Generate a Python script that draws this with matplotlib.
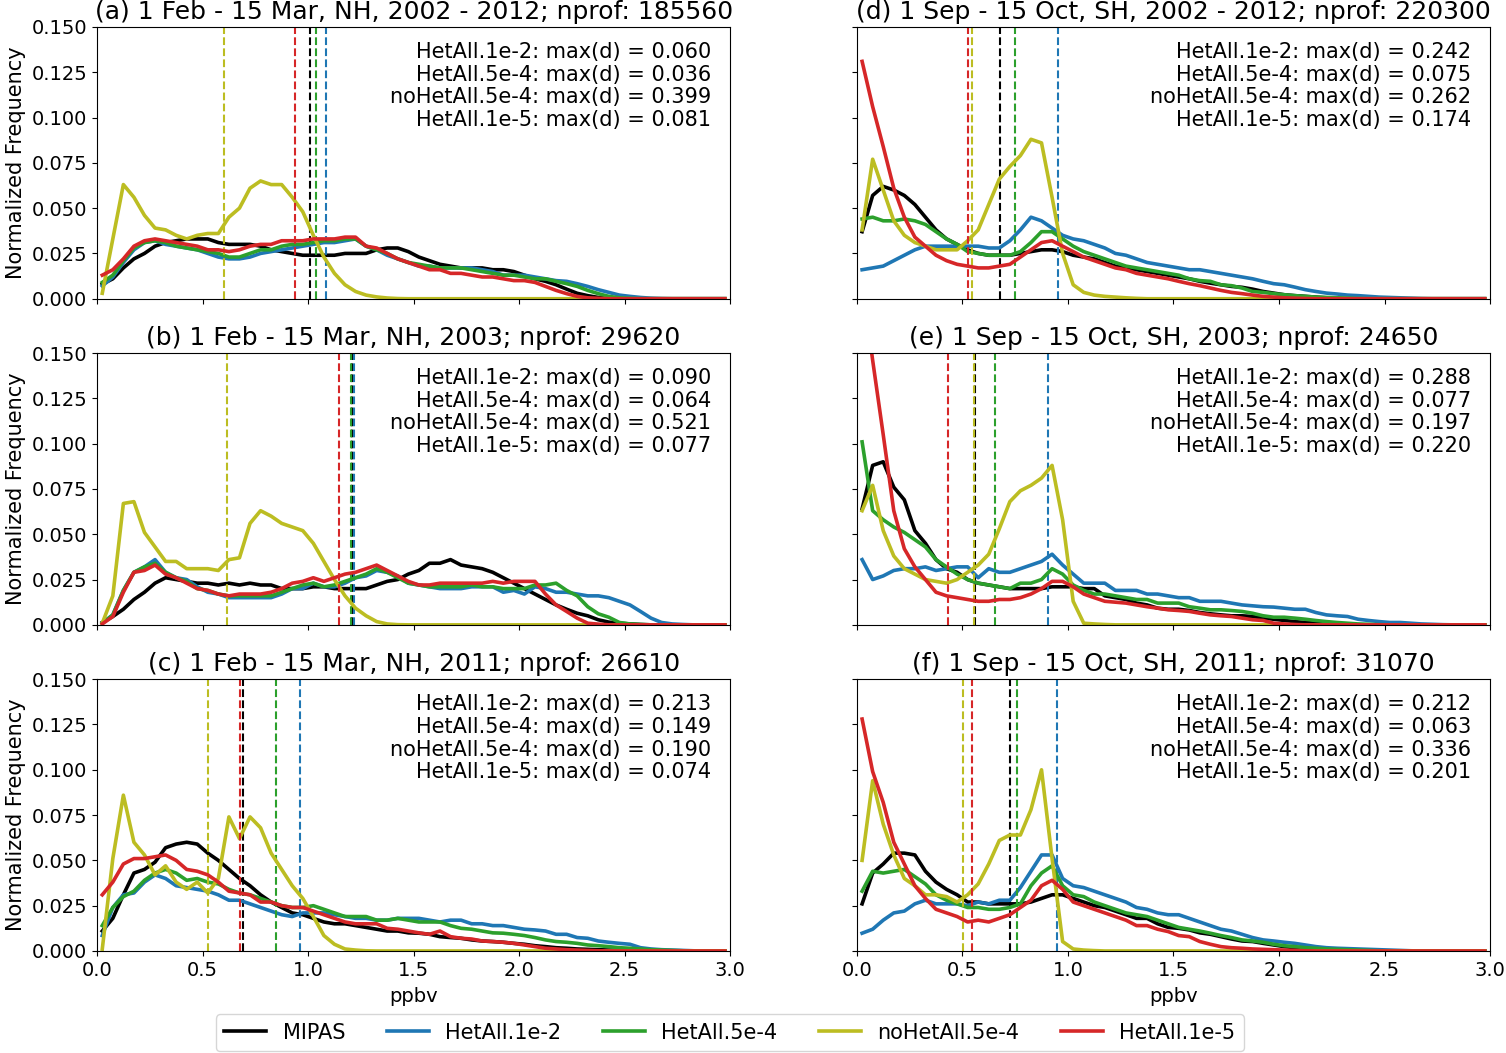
import numpy as np
import matplotlib
matplotlib.use("Agg")
import matplotlib.pyplot as plt
from matplotlib.ticker import FormatStrFormatter

# bin centres of the 0.05 ppbv histogram bins
bin_edges = np.arange(0.0, 3.0001, 0.05)
x = 0.5 * (bin_edges[:-1] + bin_edges[1:])

runs = ["MIPAS", "HetAll.1e-2", "HetAll.5e-4", "noHetAll.5e-4", "HetAll.1e-5"]
colors = ["black", "tab:blue", "tab:green", "tab:olive", "tab:red"]

titles = [
    "(a) 1 Feb - 15 Mar, NH, 2002 - 2012; nprof: 185560",
    "(b) 1 Feb - 15 Mar, NH, 2003; nprof: 29620",
    "(c) 1 Feb - 15 Mar, NH, 2011; nprof: 26610",
    "(d) 1 Sep - 15 Oct, SH, 2002 - 2012; nprof: 220300",
    "(e) 1 Sep - 15 Oct, SH, 2003; nprof: 24650",
    "(f) 1 Sep - 15 Oct, SH, 2011; nprof: 31070",
]

# ---- panel (a) ----
mipas_a = [0.008, 0.011, 0.017, 0.022, 0.025, 0.029, 0.031, 0.032, 0.033, 0.033,
           0.033, 0.031, 0.030, 0.030, 0.030, 0.029, 0.027, 0.026, 0.025, 0.024,
           0.024, 0.024, 0.024, 0.025, 0.025, 0.025, 0.027, 0.028, 0.028, 0.026,
           0.023, 0.021, 0.019, 0.018, 0.017, 0.017, 0.017, 0.016, 0.016, 0.015,
           0.013, 0.011, 0.0096, 0.0077, 0.0053, 0.003, 0.0017, 0.0007, 0.0003, 0.0001,
           0, 0, 0, 0, 0, 0, 0, 0, 0, 0]
het1e2_a = [0.007, 0.012, 0.020, 0.027, 0.031, 0.032, 0.030, 0.029, 0.028, 0.027,
            0.025, 0.023, 0.022, 0.022, 0.023, 0.025, 0.026, 0.027, 0.028, 0.029,
            0.030, 0.031, 0.031, 0.032, 0.033, 0.029, 0.027, 0.024, 0.022, 0.020,
            0.018, 0.018, 0.017, 0.017, 0.017, 0.017, 0.016, 0.015, 0.013, 0.013,
            0.013, 0.012, 0.011, 0.010, 0.0096, 0.0083, 0.0068, 0.005, 0.0035, 0.002,
            0.0013, 0.0007, 0.0003, 0.0001, 0, 0, 0, 0, 0, 0]
het5e4_a = [0.009, 0.013, 0.021, 0.028, 0.031, 0.032, 0.031, 0.029, 0.028, 0.027,
            0.026, 0.025, 0.023, 0.023, 0.025, 0.027, 0.027, 0.029, 0.030, 0.030,
            0.031, 0.032, 0.032, 0.033, 0.033, 0.029, 0.027, 0.025, 0.022, 0.020,
            0.019, 0.018, 0.017, 0.017, 0.017, 0.016, 0.015, 0.014, 0.013, 0.013,
            0.012, 0.011, 0.011, 0.0096, 0.0083, 0.0068, 0.0046, 0.0028, 0.0013, 0.0005,
            0.0002, 0, 0, 0, 0, 0, 0, 0, 0, 0]
nohet_a = [0.003, 0.033, 0.063, 0.056, 0.046, 0.039, 0.038, 0.035, 0.033, 0.035,
           0.036, 0.036, 0.045, 0.050, 0.061, 0.065, 0.063, 0.063, 0.056, 0.048,
           0.035, 0.023, 0.014, 0.0077, 0.004, 0.002, 0.001, 0.0004, 0.0001, 0,
           0, 0, 0, 0, 0, 0, 0, 0, 0, 0,
           0, 0, 0, 0, 0, 0, 0, 0, 0, 0,
           0, 0, 0, 0, 0, 0, 0, 0, 0, 0]
het1e5_a = [0.013, 0.016, 0.022, 0.029, 0.032, 0.033, 0.032, 0.031, 0.030, 0.029,
            0.027, 0.027, 0.026, 0.027, 0.029, 0.030, 0.030, 0.032, 0.032, 0.032,
            0.033, 0.033, 0.033, 0.034, 0.034, 0.029, 0.028, 0.025, 0.022, 0.020,
            0.018, 0.016, 0.016, 0.014, 0.014, 0.013, 0.012, 0.012, 0.011, 0.010,
            0.010, 0.009, 0.0068, 0.0046, 0.0028, 0.0013, 0.0005, 0.0002, 0, 0,
            0, 0, 0, 0, 0, 0, 0, 0, 0, 0]

# ---- panel (b) ----
mipas_b = [0.0013, 0.0046, 0.0086, 0.014, 0.018, 0.023, 0.026, 0.025, 0.024, 0.023,
           0.023, 0.022, 0.023, 0.022, 0.023, 0.022, 0.022, 0.020, 0.020, 0.020,
           0.021, 0.021, 0.020, 0.020, 0.020, 0.020, 0.022, 0.024, 0.025, 0.028,
           0.030, 0.034, 0.034, 0.036, 0.033, 0.032, 0.031, 0.029, 0.026, 0.023,
           0.020, 0.017, 0.014, 0.011, 0.0086, 0.0064, 0.005, 0.0028, 0.0015, 0.0009,
           0.0005, 0.0002, 0, 0, 0, 0, 0, 0, 0, 0]
het1e2_b = [0.0009, 0.0055, 0.019, 0.029, 0.032, 0.036, 0.029, 0.026, 0.025, 0.021,
            0.018, 0.017, 0.015, 0.015, 0.015, 0.015, 0.015, 0.017, 0.020, 0.020,
            0.023, 0.021, 0.021, 0.023, 0.026, 0.027, 0.030, 0.029, 0.027, 0.023,
            0.022, 0.021, 0.020, 0.020, 0.020, 0.021, 0.021, 0.021, 0.018, 0.019,
            0.017, 0.021, 0.020, 0.018, 0.018, 0.017, 0.016, 0.016, 0.015, 0.013,
            0.011, 0.0074, 0.0037, 0.0013, 0.0005, 0.0002, 0, 0, 0, 0]
het5e4_b = [0.0009, 0.0055, 0.019, 0.029, 0.032, 0.034, 0.029, 0.026, 0.024, 0.020,
            0.019, 0.017, 0.016, 0.016, 0.016, 0.016, 0.016, 0.018, 0.020, 0.022,
            0.023, 0.021, 0.022, 0.024, 0.026, 0.028, 0.031, 0.029, 0.026, 0.023,
            0.022, 0.021, 0.021, 0.021, 0.021, 0.022, 0.021, 0.021, 0.020, 0.020,
            0.020, 0.022, 0.022, 0.023, 0.019, 0.016, 0.010, 0.0061, 0.0042, 0.0013,
            0.0005, 0.0002, 0, 0, 0, 0, 0, 0, 0, 0]
nohet_b = [0.0009, 0.016, 0.067, 0.068, 0.051, 0.043, 0.035, 0.035, 0.031, 0.031,
           0.031, 0.030, 0.036, 0.037, 0.056, 0.063, 0.060, 0.056, 0.054, 0.052,
           0.045, 0.035, 0.025, 0.016, 0.0092, 0.005, 0.0018, 0.0005, 0.0001, 0,
           0, 0, 0, 0, 0, 0, 0, 0, 0, 0,
           0, 0, 0, 0, 0, 0, 0, 0, 0, 0,
           0, 0, 0, 0, 0, 0, 0, 0, 0, 0]
het1e5_b = [0.0005, 0.0046, 0.018, 0.029, 0.030, 0.033, 0.028, 0.026, 0.023, 0.020,
            0.019, 0.017, 0.016, 0.017, 0.017, 0.017, 0.018, 0.020, 0.023, 0.024,
            0.026, 0.024, 0.026, 0.028, 0.029, 0.031, 0.033, 0.030, 0.027, 0.024,
            0.022, 0.022, 0.023, 0.023, 0.023, 0.023, 0.023, 0.024, 0.023, 0.024,
            0.024, 0.024, 0.017, 0.011, 0.0074, 0.0037, 0.0009, 0.0004, 0, 0,
            0, 0, 0, 0, 0, 0, 0, 0, 0, 0]

# ---- panel (c) ----
mipas_c = [0.011, 0.018, 0.031, 0.043, 0.045, 0.049, 0.057, 0.059, 0.060, 0.059,
           0.054, 0.050, 0.045, 0.040, 0.036, 0.031, 0.027, 0.024, 0.021, 0.020,
           0.018, 0.016, 0.015, 0.015, 0.014, 0.013, 0.012, 0.011, 0.011, 0.010,
           0.0098, 0.0092, 0.0079, 0.0074, 0.007, 0.0061, 0.0055, 0.0052, 0.0048, 0.0042,
           0.0037, 0.0029, 0.0024, 0.0018, 0.0015, 0.0011, 0.0009, 0.0007, 0.0005, 0.0003,
           0.0001, 0, 0, 0, 0, 0, 0, 0, 0, 0]
het1e2_c = [0.0085, 0.024, 0.031, 0.032, 0.038, 0.042, 0.040, 0.036, 0.035, 0.034,
            0.033, 0.031, 0.028, 0.028, 0.026, 0.024, 0.022, 0.020, 0.019, 0.021,
            0.021, 0.021, 0.020, 0.019, 0.018, 0.018, 0.017, 0.017, 0.018, 0.018,
            0.018, 0.017, 0.016, 0.017, 0.017, 0.015, 0.015, 0.014, 0.014, 0.013,
            0.012, 0.0116, 0.011, 0.0092, 0.0092, 0.0074, 0.007, 0.0055, 0.0048, 0.0042,
            0.0037, 0.0018, 0.0011, 0.0007, 0.0005, 0.0003, 0.0001, 0, 0, 0]
het5e4_c = [0.014, 0.024, 0.030, 0.033, 0.039, 0.043, 0.045, 0.043, 0.039, 0.040,
            0.038, 0.037, 0.034, 0.032, 0.031, 0.029, 0.027, 0.025, 0.024, 0.024,
            0.025, 0.023, 0.021, 0.019, 0.019, 0.019, 0.017, 0.017, 0.018, 0.017,
            0.016, 0.016, 0.016, 0.014, 0.0125, 0.012, 0.011, 0.010, 0.0098, 0.0092,
            0.0085, 0.0074, 0.0061, 0.0052, 0.0048, 0.0042, 0.0033, 0.0029, 0.0024, 0.0018,
            0.0015, 0.0011, 0.0007, 0.0005, 0.0003, 0.0001, 0, 0, 0, 0]
nohet_c = [0.001, 0.051, 0.086, 0.060, 0.053, 0.042, 0.047, 0.038, 0.034, 0.038,
           0.032, 0.040, 0.074, 0.062, 0.074, 0.068, 0.054, 0.045, 0.036, 0.029,
           0.019, 0.0085, 0.0037, 0.0011, 0.0005, 0.0001, 0, 0, 0, 0,
           0, 0, 0, 0, 0, 0, 0, 0, 0, 0,
           0, 0, 0, 0, 0, 0, 0, 0, 0, 0,
           0, 0, 0, 0, 0, 0, 0, 0, 0, 0]
het1e5_c = [0.031, 0.038, 0.048, 0.051, 0.051, 0.052, 0.053, 0.050, 0.045, 0.044,
            0.042, 0.038, 0.033, 0.032, 0.031, 0.027, 0.027, 0.025, 0.024, 0.024,
            0.022, 0.020, 0.018, 0.016, 0.015, 0.015, 0.015, 0.0125, 0.012, 0.011,
            0.010, 0.0092, 0.011, 0.0079, 0.007, 0.0066, 0.0055, 0.0052, 0.0048, 0.0042,
            0.0033, 0.0024, 0.0015, 0.0011, 0.0007, 0.0005, 0.0003, 0.0001, 0, 0,
            0, 0, 0, 0, 0, 0, 0, 0, 0, 0]

# ---- panel (d) ----
mipas_d = [0.037, 0.057, 0.062, 0.060, 0.057, 0.052, 0.045, 0.038, 0.033, 0.030,
           0.027, 0.025, 0.024, 0.024, 0.024, 0.025, 0.026, 0.027, 0.027, 0.026,
           0.024, 0.023, 0.022, 0.020, 0.018, 0.017, 0.016, 0.015, 0.014, 0.013,
           0.012, 0.011, 0.0096, 0.0086, 0.0077, 0.0068, 0.0063, 0.0053, 0.004, 0.0031,
           0.0022, 0.0017, 0.0013, 0.0009, 0.0005, 0.0003, 0.0001, 0, 0, 0,
           0, 0, 0, 0, 0, 0, 0, 0, 0, 0]
het1e2_d = [0.016, 0.017, 0.018, 0.021, 0.024, 0.027, 0.029, 0.029, 0.029, 0.029,
            0.029, 0.029, 0.028, 0.028, 0.032, 0.038, 0.045, 0.043, 0.039, 0.035,
            0.033, 0.032, 0.030, 0.028, 0.025, 0.024, 0.022, 0.020, 0.019, 0.018,
            0.017, 0.016, 0.016, 0.015, 0.014, 0.013, 0.012, 0.011, 0.0096, 0.0083,
            0.0077, 0.0064, 0.005, 0.004, 0.0031, 0.0026, 0.002, 0.0017, 0.0013, 0.0009,
            0.0007, 0.0005, 0.0003, 0.0001, 0, 0, 0, 0, 0, 0]
het5e4_d = [0.044, 0.045, 0.043, 0.043, 0.044, 0.043, 0.041, 0.037, 0.033, 0.030,
            0.026, 0.025, 0.024, 0.024, 0.024, 0.026, 0.031, 0.037, 0.037, 0.033,
            0.029, 0.026, 0.024, 0.022, 0.020, 0.018, 0.017, 0.016, 0.015, 0.014,
            0.013, 0.011, 0.010, 0.0096, 0.0077, 0.0072, 0.0059, 0.004, 0.0035, 0.0028,
            0.0022, 0.0017, 0.0013, 0.0009, 0.0007, 0.0005, 0.0003, 0.0001, 0, 0,
            0, 0, 0, 0, 0, 0, 0, 0, 0, 0]
nohet_d = [0.038, 0.077, 0.060, 0.043, 0.035, 0.031, 0.029, 0.027, 0.027, 0.027,
           0.032, 0.038, 0.052, 0.066, 0.073, 0.079, 0.088, 0.086, 0.056, 0.025,
           0.0077, 0.0035, 0.002, 0.0013, 0.0009, 0.0005, 0.0002, 0, 0, 0,
           0, 0, 0, 0, 0, 0, 0, 0, 0, 0,
           0, 0, 0, 0, 0, 0, 0, 0, 0, 0,
           0, 0, 0, 0, 0, 0, 0, 0, 0, 0]
het1e5_d = [0.131, 0.106, 0.084, 0.061, 0.045, 0.034, 0.029, 0.024, 0.021, 0.019,
            0.018, 0.017, 0.017, 0.018, 0.019, 0.023, 0.027, 0.031, 0.032, 0.029,
            0.026, 0.023, 0.021, 0.019, 0.017, 0.016, 0.014, 0.013, 0.012, 0.011,
            0.0096, 0.0083, 0.0072, 0.0059, 0.0046, 0.0035, 0.0028, 0.002, 0.0013, 0.0009,
            0.0005, 0.0003, 0.0001, 0, 0, 0, 0, 0, 0, 0,
            0, 0, 0, 0, 0, 0, 0, 0, 0, 0]

# ---- panel (e) ----
mipas_e = [0.064, 0.088, 0.090, 0.076, 0.069, 0.052, 0.045, 0.036, 0.031, 0.029,
           0.025, 0.023, 0.022, 0.021, 0.020, 0.020, 0.020, 0.020, 0.021, 0.021,
           0.021, 0.020, 0.020, 0.016, 0.015, 0.014, 0.012, 0.011, 0.0092, 0.0086,
           0.0086, 0.0079, 0.0068, 0.0061, 0.0055, 0.005, 0.005, 0.0046, 0.0037, 0.0031,
           0.0024, 0.0018, 0.0013, 0.0009, 0.0005, 0.0003, 0.0001, 0, 0, 0,
           0, 0, 0, 0, 0, 0, 0, 0, 0, 0]
het1e2_e = [0.036, 0.025, 0.027, 0.030, 0.031, 0.031, 0.032, 0.030, 0.031, 0.032,
            0.032, 0.026, 0.031, 0.029, 0.029, 0.031, 0.033, 0.035, 0.039, 0.033,
            0.028, 0.023, 0.023, 0.023, 0.019, 0.019, 0.019, 0.017, 0.017, 0.016,
            0.015, 0.015, 0.013, 0.013, 0.013, 0.012, 0.011, 0.0105, 0.010, 0.0098,
            0.0092, 0.0086, 0.0086, 0.0068, 0.0055, 0.005, 0.0046, 0.0031, 0.0024, 0.0018,
            0.0013, 0.0013, 0.0009, 0.0005, 0.0003, 0.0001, 0, 0, 0, 0]
het5e4_e = [0.101, 0.063, 0.058, 0.054, 0.051, 0.047, 0.043, 0.036, 0.032, 0.028,
            0.025, 0.023, 0.022, 0.021, 0.020, 0.023, 0.023, 0.025, 0.031, 0.028,
            0.022, 0.019, 0.017, 0.017, 0.016, 0.015, 0.014, 0.014, 0.012, 0.012,
            0.012, 0.010, 0.0092, 0.0083, 0.0083, 0.0079, 0.0074, 0.0064, 0.005, 0.0042,
            0.0042, 0.0037, 0.0031, 0.0024, 0.0018, 0.0013, 0.0009, 0.0005, 0.0003, 0.0001,
            0, 0, 0, 0, 0, 0, 0, 0, 0, 0]
nohet_e = [0.063, 0.077, 0.052, 0.038, 0.031, 0.028, 0.025, 0.024, 0.023, 0.025,
           0.029, 0.033, 0.039, 0.053, 0.068, 0.074, 0.077, 0.081, 0.088, 0.058,
           0.013, 0.0009, 0.0005, 0.0002, 0, 0, 0, 0, 0, 0,
           0, 0, 0, 0, 0, 0, 0, 0, 0, 0,
           0, 0, 0, 0, 0, 0, 0, 0, 0, 0,
           0, 0, 0, 0, 0, 0, 0, 0, 0, 0]
het1e5_e = [0.190, 0.146, 0.105, 0.063, 0.042, 0.032, 0.025, 0.018, 0.016, 0.015,
            0.014, 0.013, 0.013, 0.014, 0.014, 0.015, 0.017, 0.020, 0.024, 0.024,
            0.021, 0.017, 0.015, 0.013, 0.0125, 0.012, 0.011, 0.010, 0.0092, 0.0083,
            0.0079, 0.0074, 0.0064, 0.0055, 0.005, 0.0046, 0.0037, 0.0028, 0.0024, 0.0009,
            0.0005, 0.0002, 0, 0, 0, 0, 0, 0, 0, 0,
            0, 0, 0, 0, 0, 0, 0, 0, 0, 0]

# ---- panel (f) ----
mipas_f = [0.026, 0.043, 0.048, 0.054, 0.054, 0.053, 0.044, 0.038, 0.034, 0.031,
           0.027, 0.027, 0.026, 0.026, 0.026, 0.026, 0.027, 0.029, 0.031, 0.031,
           0.029, 0.027, 0.025, 0.024, 0.022, 0.020, 0.018, 0.018, 0.015, 0.013,
           0.0125, 0.0116, 0.010, 0.0092, 0.0079, 0.0066, 0.0055, 0.0052, 0.0042, 0.0033,
           0.0024, 0.0018, 0.0015, 0.0011, 0.0009, 0.0007, 0.0005, 0.0003, 0.0001, 0,
           0, 0, 0, 0, 0, 0, 0, 0, 0, 0]
het1e2_f = [0.0098, 0.012, 0.017, 0.021, 0.022, 0.026, 0.028, 0.026, 0.026, 0.026,
            0.025, 0.027, 0.026, 0.028, 0.028, 0.035, 0.044, 0.053, 0.053, 0.040,
            0.036, 0.035, 0.033, 0.031, 0.029, 0.027, 0.024, 0.023, 0.021, 0.020,
            0.020, 0.018, 0.016, 0.014, 0.012, 0.011, 0.0092, 0.0074, 0.0061, 0.0055,
            0.0048, 0.0042, 0.0033, 0.0024, 0.0018, 0.0015, 0.0013, 0.0011, 0.0009, 0.0007,
            0.0005, 0.0003, 0.0001, 0, 0, 0, 0, 0, 0, 0]
het5e4_f = [0.033, 0.044, 0.043, 0.044, 0.045, 0.041, 0.037, 0.031, 0.028, 0.026,
            0.024, 0.024, 0.023, 0.023, 0.024, 0.026, 0.036, 0.043, 0.047, 0.036,
            0.031, 0.030, 0.027, 0.025, 0.023, 0.021, 0.020, 0.019, 0.017, 0.015,
            0.013, 0.012, 0.011, 0.0098, 0.0085, 0.0074, 0.0061, 0.0055, 0.0048, 0.0037,
            0.0029, 0.0024, 0.0018, 0.0015, 0.0011, 0.0009, 0.0007, 0.0005, 0.0003, 0.0001,
            0, 0, 0, 0, 0, 0, 0, 0, 0, 0]
nohet_f = [0.050, 0.094, 0.070, 0.053, 0.040, 0.036, 0.031, 0.031, 0.030, 0.027,
           0.031, 0.037, 0.048, 0.061, 0.064, 0.064, 0.078, 0.100, 0.051, 0.0052,
           0.0011, 0.0005, 0.0002, 0, 0, 0, 0, 0, 0, 0,
           0, 0, 0, 0, 0, 0, 0, 0, 0, 0,
           0, 0, 0, 0, 0, 0, 0, 0, 0, 0,
           0, 0, 0, 0, 0, 0, 0, 0, 0, 0]
het1e5_f = [0.128, 0.099, 0.082, 0.060, 0.048, 0.036, 0.029, 0.023, 0.021, 0.019,
            0.016, 0.017, 0.016, 0.018, 0.020, 0.024, 0.028, 0.036, 0.039, 0.034,
            0.027, 0.025, 0.023, 0.021, 0.019, 0.017, 0.014, 0.014, 0.012, 0.0107,
            0.0085, 0.0079, 0.0052, 0.0037, 0.0024, 0.0018, 0.0015, 0.0011, 0.0009, 0.0007,
            0.0005, 0.0003, 0.0001, 0, 0, 0, 0, 0, 0, 0,
            0, 0, 0, 0, 0, 0, 0, 0, 0, 0]

# mean values (dashed lines), order as in runs
means_a = [1.010, 1.086, 1.039, 0.604, 0.939]
means_b = [1.208, 1.220, 1.202, 0.614, 1.147]
means_c = [0.690, 0.961, 0.849, 0.525, 0.676]
means_d = [0.680, 0.955, 0.750, 0.548, 0.528]
means_e = [0.560, 0.908, 0.656, 0.554, 0.432]
means_f = [0.727, 0.947, 0.760, 0.505, 0.548]

# KS statistic max(d) per model run (HetAll.1e-2, HetAll.5e-4, noHetAll.5e-4, HetAll.1e-5)
maxd_a = [0.060, 0.036, 0.399, 0.081]
maxd_b = [0.090, 0.064, 0.521, 0.077]
maxd_c = [0.213, 0.149, 0.190, 0.074]
maxd_d = [0.242, 0.075, 0.262, 0.174]
maxd_e = [0.288, 0.077, 0.197, 0.220]
maxd_f = [0.212, 0.063, 0.336, 0.201]

panels = [
    ([mipas_a, het1e2_a, het5e4_a, nohet_a, het1e5_a], means_a, maxd_a),
    ([mipas_b, het1e2_b, het5e4_b, nohet_b, het1e5_b], means_b, maxd_b),
    ([mipas_c, het1e2_c, het5e4_c, nohet_c, het1e5_c], means_c, maxd_c),
    ([mipas_d, het1e2_d, het5e4_d, nohet_d, het1e5_d], means_d, maxd_d),
    ([mipas_e, het1e2_e, het5e4_e, nohet_e, het1e5_e], means_e, maxd_e),
    ([mipas_f, het1e2_f, het5e4_f, nohet_f, het1e5_f], means_f, maxd_f),
]

plt.rcParams["font.size"] = 14

fig, axes = plt.subplots(3, 2, figsize=(15.06, 10.53), dpi=100, sharex=True, sharey=True)
fig.subplots_adjust(left=0.0644, right=0.9894, top=0.9744, bottom=0.0969,
                    wspace=0.2, hspace=0.2)

# column-major: a, b, c left; d, e, f right
ax_list = [axes[0, 0], axes[1, 0], axes[2, 0], axes[0, 1], axes[1, 1], axes[2, 1]]

for ax, title, (curves, means, maxd) in zip(ax_list, titles, panels):
    for name, col, y, m in zip(runs, colors, curves, means):
        ax.plot(x, y, color=col, lw=2.6, label=name)
        ax.axvline(m, color=col, ls="--", lw=1.5)
    lines = [f"{name}: max(d) = {d:.3f}" for name, d in zip(runs[1:], maxd)]
    ax.text(0.97, 0.945, "\n".join(lines), transform=ax.transAxes,
            ha="right", va="top", fontsize=15, linespacing=1.17)
    ax.set_title(title, fontsize=18)
    ax.set_xlim(0, 3)
    ax.set_ylim(0, 0.15)

for ax in axes[:, 0]:
    ax.set_ylabel("Normalized Frequency", fontsize=15)
for ax in axes[2, :]:
    ax.set_xlabel("ppbv", fontsize=14, labelpad=5)
    ax.set_xticks(np.arange(0, 3.01, 0.5))
    ax.xaxis.set_major_formatter(FormatStrFormatter("%.1f"))
axes[0, 0].set_yticks(np.arange(0, 0.1501, 0.025))
axes[0, 0].yaxis.set_major_formatter(FormatStrFormatter("%.3f"))

handles, labels = axes[0, 0].get_legend_handles_labels()
fig.legend(handles, labels, loc="upper center", ncol=5,
           bbox_to_anchor=(730 / 1506, 1 - 1004 / 1053), fontsize=15)

fig.savefig("out.png", dpi=100)
